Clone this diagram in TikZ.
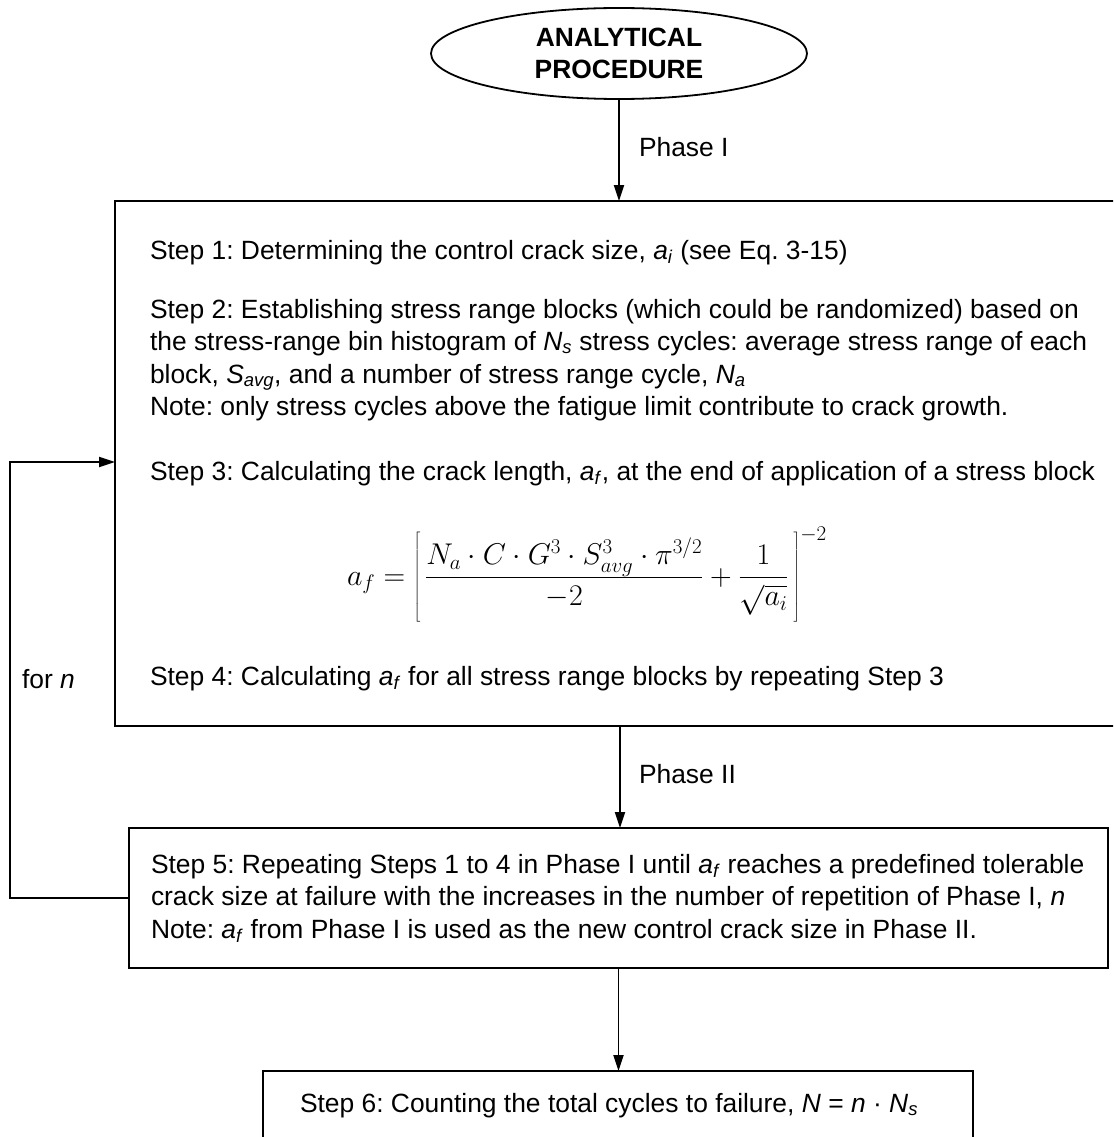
\RequirePackage{fix-cm}
\documentclass[tikz,border=0pt]{standalone}
\usepackage{fontspec}
\setmainfont{Liberation Sans}
\usetikzlibrary{arrows.meta,shapes.geometric}
\newcommand{\isub}[2]{\textit{#1}\textsubscript{\textit{#2}}}
\frenchspacing
\begin{document}
\begin{tikzpicture}[x=1pt,y=-1pt,
  line width=1.8pt,
  every node/.style={font=\fontsize{26.4}{32.4}\selectfont, inner sep=0pt, outer sep=0pt},
  boxstyle/.style={draw, rectangle, line width=1.8pt},
  txt/.style={anchor=base west},
  arr/.style={-{Triangle[length=16pt,width=10pt]}}]
\useasboundingbox (0,0) rectangle (1113,1137);
\clip (0,0) rectangle (1113,1137);

% nodes
\node[draw, ellipse, minimum width=376pt, minimum height=91pt,
      font=\bfseries\fontsize{26.4}{32}\selectfont, align=center] (start) at (619,53.5) {ANALYTICAL\\PROCEDURE};
\node[boxstyle, minimum width=1010pt, minimum height=525pt] (big) at (620,463.5) {};
\node[boxstyle, minimum width=979pt, minimum height=140pt] (box2) at (618.5,898) {};
\node[boxstyle, minimum width=710pt, minimum height=99pt] (box3) at (618,1120.5) {};

% texts in big box
\node[txt] (s1) at (150,259) {Step 1: Determining the control crack size, \isub{a}{i} (see Eq. 3-15)};
\node[txt] (s2a) at (150,318) {Step 2: Establishing stress range blocks (which could be randomized) based on};
\node[txt] (s2b) at (150,350) {the stress-range bin histogram of \isub{N}{s} stress cycles: average stress range of each};
\node[txt] (s2c) at (150,383) {block, \isub{S}{avg}, and a number of stress range cycle, \isub{N}{a}};
\node[txt] (s2d) at (150,415) {Note: only stress cycles above the fatigue limit contribute to crack growth.};
\node[txt] (s3) at (150,480) {Step 3: Calculating the crack length, \isub{a}{f}, at the end of application of a stress block};
\node[anchor=base west] (eq) at (347,585) {\fontsize{30}{36}\selectfont
  $\displaystyle a_f=\left[\vrule height 52pt depth 40pt width 0pt\,\frac{N_a\cdot C\cdot G^3\cdot S^3_{avg}\cdot\pi^{3/2}}{-2}+\frac{1}{\sqrt{a_i}}\,\right]^{-2}$};
\node[txt] (s4) at (150,685) {Step 4: Calculating \isub{a}{f} for all stress range blocks by repeating Step 3};

% box 2 texts
\node[txt] (s5a) at (151,873) {Step 5: Repeating Steps 1 to 4 in Phase I until \isub{a}{f} reaches a predefined tolerable};
\node[txt] (s5b) at (151,905) {crack size at failure with the increases in the number of repetition of Phase I, \textit{n}};
\node[txt] (s5c) at (151,938) {Note: \isub{a}{f} from Phase I is used as the new control crack size in Phase II.};

% box 3 text
\node[txt] (s6) at (300,1112) {Step 6: Counting the total cycles to failure, \textit{N} = \textit{n} · \isub{N}{s}};

% labels
\node[txt] (p1) at (639,156) {Phase I};
\node[txt] (p2) at (639,783) {Phase II};
\node[txt] (forn) at (22,688) {for \textit{n}};

% connectors
\draw[arr] (start.south) -- (start.south |- big.north);
\draw[arr] (big.south) -- (big.south |- box2.north);
\draw[arr] (box2.south) -- (box2.south |- box3.north);
\coordinate (lp) at (10,462);
\draw[arr] (box2.west) -| (lp) -- (lp -| big.west);
\end{tikzpicture}
\end{document}
